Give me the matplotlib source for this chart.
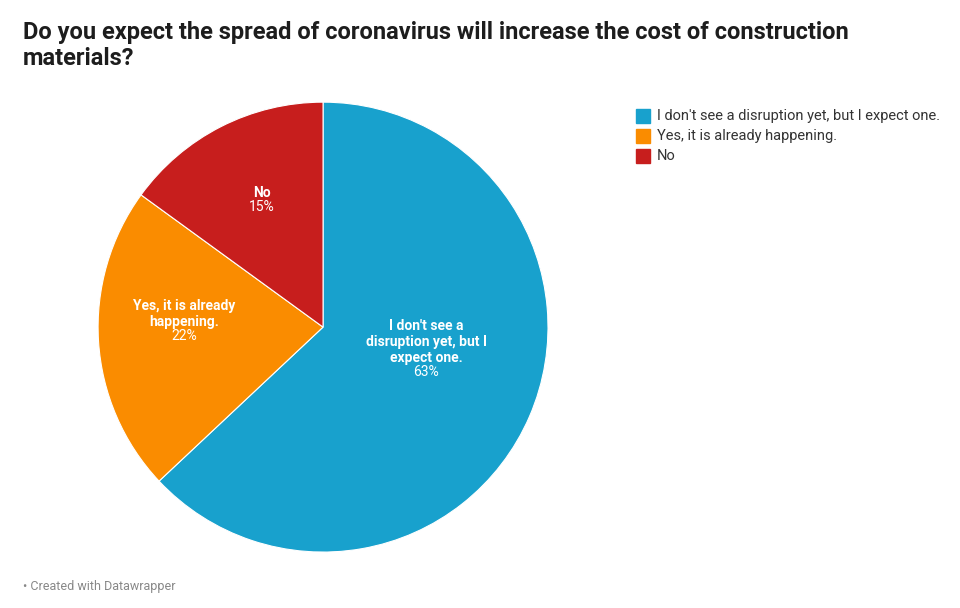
import numpy as np
import matplotlib
matplotlib.use('Agg')
import matplotlib.pyplot as plt
from matplotlib.patches import Rectangle

plt.rcParams['font.family'] = ['Roboto', 'DejaVu Sans']

labels = ["I don't see a disruption yet, but I expect one.", "Yes, it is already happening.", "No"]
slice_labels = ["I don't see a\ndisruption yet, but I\nexpect one.", "Yes, it is already\nhappening.", "No"]
values = [63, 22, 15]
colors = ['#18a1cd', '#fa8c00', '#c71e1d']
label_dist = [0.5, 0.62, 0.6]

fig = plt.figure(figsize=(9.6, 6.08), dpi=100)
fig.text(0.024, 0.965, "Do you expect the spread of coronavirus will increase the cost of construction\nmaterials?",
         fontsize=17, fontweight='bold', va='top', ha='left', linespacing=1.15, color='#1d1d1d')
fig.text(0.024, 0.035, "• Created with Datawrapper", fontsize=9, color='#888888', va='center')

ax = fig.add_axes([0.102, 0.092, 0.469, 0.740])
wedges, _ = ax.pie(values, colors=colors, startangle=90, counterclock=False,
                   wedgeprops=dict(edgecolor='white', linewidth=0.8))
ax.set_xlim(-1, 1); ax.set_ylim(-1, 1)
for w, lab, v, r in zip(wedges, slice_labels, values, label_dist):
    th = np.deg2rad((w.theta1 + w.theta2) / 2)
    x, y = r * np.cos(th), r * np.sin(th)
    ax.text(x, y + 0.03, lab, ha='center', va='bottom', color='white', fontsize=10,
            fontweight='bold', linespacing=1.2)
    ax.text(x, y + 0.03, f"{v}%", ha='center', va='top', color='white', fontsize=10)

# legend
for i, (lab, c) in enumerate(zip(labels, colors)):
    yc = 1 - (116 + 20 * i) / 608
    fig.patches.append(Rectangle((636 / 960, yc - 7 / 608), 14 / 960, 14 / 608,
                                 transform=fig.transFigure, color=c))
    fig.text(657 / 960, yc, lab, fontsize=10.5, va='center', ha='left', color='#333333')

fig.savefig('out.png', dpi=100)
